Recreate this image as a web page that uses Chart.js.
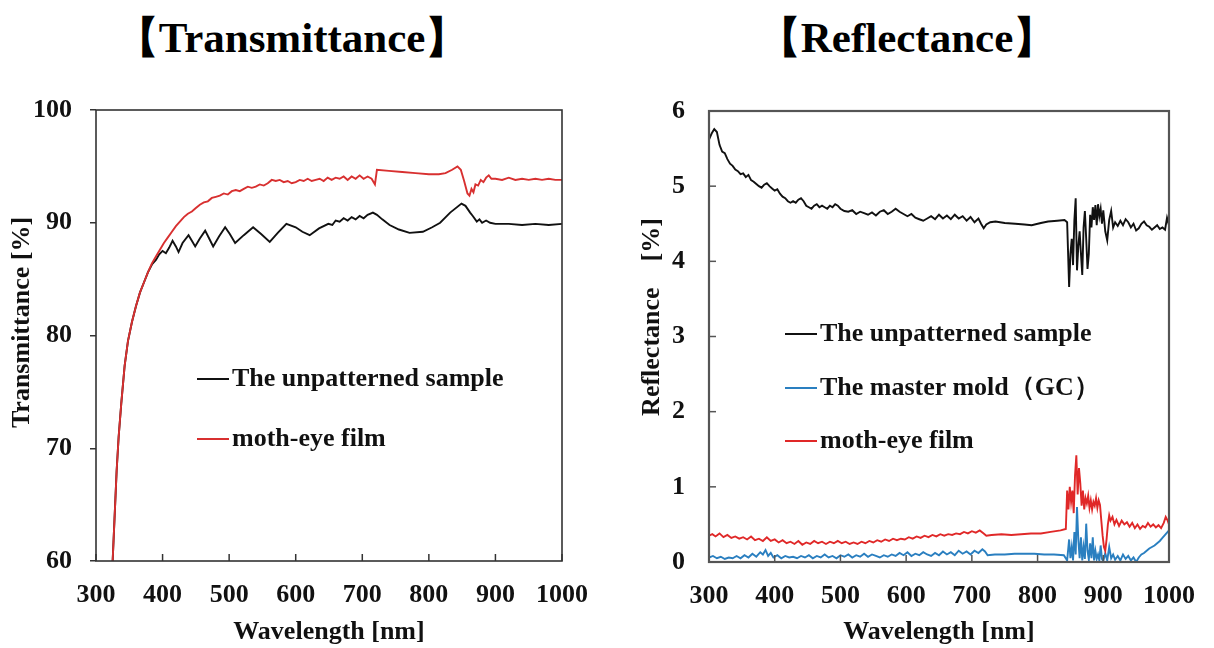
<!DOCTYPE html>
<html>
<head>
<meta charset="utf-8">
<script src="https://cdn.jsdelivr.net/npm/chart.js@4.4.1/dist/chart.umd.min.js"></script>
<style>
  body { margin: 0; background: #fff; width: 1214px; height: 648px; position: relative; overflow: hidden; }
  canvas { position: absolute; top: 0; }
  .title { position: absolute; top: 12px; font: bold 43px "Liberation Serif", serif; color: #000; white-space: nowrap; transform: translateX(-50%); line-height: 52px; }
  .leg { position: absolute; font: bold 26px "Liberation Serif", serif; color: #111; white-space: nowrap; line-height: 30px; }
  .leg span { display: inline-block; width: 32px; height: 2px; vertical-align: middle; margin-right: 3px; position: relative; top: -1px; }
</style>
</head>
<body>
<div class="title" style="left:292px">【Transmittance】</div>
<div class="title" style="left:907px">【Reflectance】</div>
<canvas id="transChart" width="607" height="648" style="left:0"></canvas>
<canvas id="reflChart" width="607" height="648" style="left:607px"></canvas>

<div class="leg" style="left:197px;top:363px"><span style="background:#111"></span>The unpatterned sample</div>
<div class="leg" style="left:197px;top:423px"><span style="background:#d83030"></span>moth-eye film</div>

<div class="leg" style="left:785px;top:318px"><span style="background:#111"></span>The unpatterned sample</div>
<div class="leg" style="left:785px;top:372px"><span style="background:#2a7fc0"></span>The master mold（GC）</div>
<div class="leg" style="left:785px;top:425px"><span style="background:#e02828"></span>moth-eye film</div>

<script>
// ---- Transmittance [%] ----
let tBlackNm = [325, 328, 331, 334, 338, 343, 348, 354, 360, 366, 372, 378, 384, 390, 395, 400, 405, 410, 415, 420, 424, 430, 439, 444, 449, 456, 464, 470, 476, 485, 494, 501, 509, 522, 536, 548, 561, 573, 586, 600, 610, 621, 635, 649, 655, 660, 666, 672, 678, 684, 690, 696, 702, 708, 716, 722, 730, 741, 755, 771, 791, 805, 817, 832, 849, 855, 862, 866, 872, 876, 880, 886, 892, 900, 920, 940, 960, 980, 1000];
let tBlack = [60, 64, 68, 71, 74, 77.3, 79.5, 81.2, 82.6, 83.8, 84.7, 85.6, 86.3, 86.7, 87.2, 87.5, 87.3, 87.8, 88.4, 87.9, 87.4, 88.2, 88.9, 88.4, 87.9, 88.6, 89.3, 88.6, 87.9, 88.8, 89.6, 89.0, 88.2, 88.9, 89.6, 89.0, 88.3, 89.1, 89.9, 89.6, 89.2, 88.9, 89.5, 89.9, 89.8, 90.2, 90.1, 90.4, 90.2, 90.5, 90.3, 90.6, 90.4, 90.7, 90.9, 90.7, 90.3, 89.8, 89.4, 89.1, 89.2, 89.6, 90.0, 90.9, 91.7, 91.5, 90.9, 90.6, 90.1, 90.3, 90.0, 90.2, 90.0, 89.9, 89.9, 89.8, 89.9, 89.8, 89.9];

let tRedNm = [325, 328, 331, 334, 338, 343, 348, 354, 360, 366, 372, 378, 384, 390, 396, 402, 408, 414, 420, 426, 432, 438, 444, 450, 456, 462, 468, 474, 480, 486, 492, 498, 504, 510, 516, 522, 528, 534, 540, 546, 552, 558, 564, 570, 576, 582, 588, 594, 600, 606, 612, 618, 624, 630, 636, 642, 648, 654, 660, 666, 672, 678, 684, 690, 696, 702, 708, 714, 719, 722, 740, 760, 780, 800, 815, 825, 835, 843, 848, 853, 858, 861, 864, 867, 870, 874, 878, 882, 886, 890, 894, 900, 910, 920, 930, 940, 950, 960, 970, 980, 990, 1000];
let tRed = [60, 64, 68, 71, 74, 77.3, 79.5, 81.2, 82.6, 83.8, 84.7, 85.6, 86.4, 87.0, 87.6, 88.2, 88.7, 89.2, 89.7, 90.1, 90.5, 90.8, 91.0, 91.3, 91.6, 91.8, 91.9, 92.2, 92.3, 92.4, 92.6, 92.5, 92.8, 92.9, 92.8, 93.0, 93.2, 93.1, 93.2, 93.4, 93.3, 93.5, 93.8, 93.7, 93.8, 93.6, 93.7, 93.5, 93.6, 93.8, 93.7, 93.9, 93.7, 93.8, 93.9, 93.7, 94.0, 93.8, 94.0, 93.9, 94.1, 93.8, 94.1, 93.9, 94.2, 93.9, 94.1, 93.9, 93.4, 94.7, 94.6, 94.5, 94.4, 94.3, 94.3, 94.4, 94.7, 95.0, 94.7, 93.7, 92.6, 92.4, 93.0, 92.7, 93.4, 93.3, 93.8, 93.6, 94.0, 94.2, 93.9, 93.9, 93.8, 94.0, 93.8, 93.9, 93.8, 93.9, 93.8, 93.9, 93.8, 93.8];

// ---- Reflectance [%] ----
let rBlackNm = [300, 304, 308, 312, 316, 320, 324, 328, 332, 336, 340, 344, 348, 352, 356, 360, 364, 368, 372, 376, 380, 384, 388, 392, 396, 400, 404, 408, 412, 416, 420, 424, 428, 432, 436, 440, 444, 448, 452, 456, 460, 464, 468, 472, 476, 480, 484, 488, 492, 496, 500, 506, 512, 518, 524, 530, 536, 542, 548, 554, 560, 566, 572, 578, 584, 590, 596, 602, 608, 614, 620, 626, 632, 638, 644, 650, 656, 662, 668, 674, 680, 686, 692, 698, 704, 710, 714, 718, 722, 728, 736, 750, 766, 780, 791, 805, 816, 830, 841, 845, 848, 850, 852, 854, 856, 858, 860, 862, 864, 866, 868, 870, 872, 874, 876, 878, 880, 882, 884, 886, 888, 890, 892, 894, 896, 898, 900, 903, 906, 909, 912, 915, 918, 922, 926, 930, 934, 938, 942, 946, 950, 954, 958, 962, 966, 970, 974, 978, 982, 986, 990, 994, 997, 1000];
let rBlack = [5.62, 5.70, 5.76, 5.72, 5.55, 5.46, 5.44, 5.36, 5.30, 5.27, 5.22, 5.20, 5.16, 5.17, 5.12, 5.15, 5.08, 5.06, 5.03, 5.00, 4.98, 5.02, 5.04, 5.00, 4.97, 4.94, 4.96, 4.90, 4.86, 4.84, 4.80, 4.78, 4.80, 4.78, 4.82, 4.84, 4.80, 4.74, 4.72, 4.70, 4.74, 4.76, 4.72, 4.74, 4.72, 4.70, 4.74, 4.72, 4.76, 4.74, 4.70, 4.67, 4.66, 4.68, 4.63, 4.66, 4.64, 4.62, 4.65, 4.61, 4.66, 4.68, 4.63, 4.66, 4.70, 4.66, 4.63, 4.60, 4.63, 4.58, 4.56, 4.54, 4.57, 4.60, 4.56, 4.62, 4.57, 4.61, 4.56, 4.62, 4.57, 4.60, 4.54, 4.59, 4.52, 4.57, 4.50, 4.44, 4.49, 4.52, 4.53, 4.51, 4.50, 4.49, 4.48, 4.51, 4.53, 4.54, 4.55, 4.52, 3.66, 4.10, 4.30, 3.95, 4.55, 4.84, 3.88, 4.20, 4.40, 4.10, 3.82, 4.45, 4.67, 4.30, 3.90, 4.10, 4.62, 4.45, 4.72, 4.55, 4.75, 4.48, 4.76, 4.60, 4.70, 4.50, 4.68, 4.40, 4.28, 4.55, 4.67, 4.45, 4.52, 4.47, 4.54, 4.48, 4.56, 4.52, 4.45, 4.50, 4.41, 4.44, 4.50, 4.53, 4.48, 4.46, 4.42, 4.45, 4.48, 4.43, 4.45, 4.42, 4.58, 4.48];

let rBlueNm = [300, 306, 312, 318, 324, 330, 336, 342, 348, 354, 360, 366, 372, 378, 382, 386, 390, 394, 398, 404, 410, 416, 422, 428, 434, 440, 446, 452, 458, 464, 470, 476, 482, 488, 494, 500, 506, 512, 518, 524, 530, 536, 542, 548, 554, 560, 566, 572, 578, 584, 590, 596, 602, 608, 614, 620, 626, 632, 638, 644, 650, 656, 662, 668, 674, 680, 686, 692, 698, 704, 710, 716, 720, 724, 735, 750, 765, 780, 795, 810, 825, 840, 845, 848, 850, 852, 854, 856, 858, 860, 862, 864, 866, 868, 870, 872, 874, 876, 878, 880, 882, 884, 886, 888, 890, 892, 894, 896, 898, 900, 903, 906, 909, 912, 915, 918, 922, 926, 930, 934, 938, 942, 946, 950, 954, 958, 962, 966, 970, 974, 978, 982, 986, 990, 994, 998, 1000];
let rBlue = [0.06, 0.08, 0.05, 0.07, 0.04, 0.06, 0.05, 0.08, 0.05, 0.09, 0.06, 0.11, 0.07, 0.13, 0.10, 0.16, 0.08, 0.12, 0.06, 0.09, 0.05, 0.08, 0.06, 0.07, 0.05, 0.08, 0.06, 0.09, 0.05, 0.08, 0.06, 0.10, 0.06, 0.08, 0.05, 0.09, 0.07, 0.10, 0.06, 0.09, 0.07, 0.11, 0.07, 0.10, 0.08, 0.06, 0.09, 0.07, 0.10, 0.08, 0.12, 0.09, 0.13, 0.08, 0.11, 0.09, 0.13, 0.10, 0.08, 0.12, 0.09, 0.14, 0.10, 0.13, 0.09, 0.15, 0.11, 0.14, 0.10, 0.15, 0.12, 0.17, 0.14, 0.09, 0.10, 0.10, 0.11, 0.11, 0.11, 0.10, 0.10, 0.09, 0.02, 0.30, 0.05, 0.20, 0.02, 0.40, 0.10, 0.73, 0.30, 0.05, 0.33, 0.02, 0.20, 0.04, 0.51, 0.15, 0.03, 0.25, 0.05, 0.33, 0.02, 0.15, 0.04, 0.10, 0.02, 0.22, 0.04, 0.01, 0.12, 0.02, 0.20, 0.05, 0.10, 0.03, 0.08, 0.02, 0.10, 0.04, 0.08, 0.02, 0.06, 0.00, 0.06, 0.10, 0.12, 0.15, 0.18, 0.20, 0.22, 0.25, 0.28, 0.32, 0.36, 0.40, 0.42];

let rRedNm = [300, 305, 310, 316, 322, 328, 334, 340, 346, 352, 358, 364, 370, 376, 382, 388, 394, 400, 406, 412, 418, 424, 430, 436, 442, 448, 454, 460, 466, 472, 478, 484, 490, 496, 502, 508, 514, 520, 526, 532, 538, 544, 550, 556, 562, 568, 574, 580, 586, 592, 598, 604, 610, 616, 622, 628, 634, 640, 646, 652, 658, 664, 670, 676, 682, 688, 694, 700, 706, 712, 718, 722, 730, 745, 760, 775, 790, 805, 820, 835, 843, 845, 847, 849, 851, 853, 855, 857, 859, 861, 863, 865, 867, 869, 871, 873, 875, 877, 879, 881, 883, 885, 887, 889, 891, 893, 895, 897, 899, 901, 903, 905, 907, 909, 911, 914, 917, 920, 924, 928, 932, 936, 940, 944, 948, 952, 956, 960, 964, 968, 972, 976, 980, 984, 988, 992, 995, 998, 1000];
let rRed = [0.35, 0.37, 0.34, 0.38, 0.33, 0.36, 0.32, 0.34, 0.31, 0.33, 0.30, 0.34, 0.29, 0.31, 0.28, 0.33, 0.28, 0.30, 0.26, 0.29, 0.25, 0.27, 0.24, 0.28, 0.23, 0.26, 0.24, 0.28, 0.25, 0.27, 0.24, 0.27, 0.25, 0.28, 0.25, 0.27, 0.24, 0.26, 0.24, 0.27, 0.25, 0.28, 0.26, 0.29, 0.27, 0.30, 0.28, 0.31, 0.29, 0.31, 0.30, 0.33, 0.31, 0.34, 0.32, 0.35, 0.33, 0.36, 0.34, 0.37, 0.35, 0.37, 0.36, 0.38, 0.37, 0.40, 0.38, 0.41, 0.39, 0.42, 0.38, 0.35, 0.36, 0.37, 0.36, 0.37, 0.38, 0.38, 0.40, 0.42, 0.44, 0.95, 0.70, 1.00, 0.80, 0.95, 0.65, 1.15, 1.42, 0.90, 1.25, 1.05, 0.75, 0.95, 0.70, 0.85, 0.78, 0.88, 0.72, 0.82, 0.70, 0.80, 0.75, 0.85, 0.72, 0.82, 0.76, 0.55, 0.35, 0.20, 0.15, 0.30, 0.50, 0.62, 0.55, 0.60, 0.50, 0.56, 0.48, 0.55, 0.50, 0.53, 0.47, 0.52, 0.45, 0.50, 0.44, 0.48, 0.46, 0.52, 0.47, 0.50, 0.46, 0.49, 0.45, 0.52, 0.60, 0.55, 0.50];

function pts(nm, vals) {
  return nm.map((x, i) => ({ x: x, y: vals[i] }));
}

const serif = "'Liberation Serif', 'Times New Roman', serif";
const plain = (v) => String(v);

// frame round the plot and inward tick marks
const boxPlugin = {
  id: "box",
  afterDatasetsDraw(chart, args, opts) {
    const { ctx, chartArea: a, scales } = chart;
    ctx.save();
    ctx.strokeStyle = opts.color;
    ctx.lineWidth = opts.width;
    ctx.strokeRect(a.left, a.top, a.right - a.left, a.bottom - a.top);
    ctx.lineWidth = 1.5;
    (opts.inward || []).forEach((id) => {
      const s = scales[id];
      s.ticks.forEach((t) => {
        const p = s.getPixelForValue(t.value);
        ctx.beginPath();
        if (s.isHorizontal()) {
          ctx.moveTo(p, a.bottom);
          ctx.lineTo(p, a.bottom - 7);
        } else {
          ctx.moveTo(a.left, p);
          ctx.lineTo(a.left + 7, p);
        }
        ctx.stroke();
      });
    });
    ctx.restore();
  },
};

function lineSet(label, data, color) {
  return {
    label: label,
    data: data,
    borderColor: color,
    borderWidth: 1.9,
    pointRadius: 0,
    tension: 0,
    fill: false,
  };
}

let transChart = new Chart(document.getElementById("transChart").getContext("2d"), {
  type: "line",
  data: {
    datasets: [
      lineSet("moth-eye film", pts(tRedNm, tRed), "#d83030"),
      lineSet("The unpatterned sample", pts(tBlackNm, tBlack), "#111111"),
    ],
  },
  options: {
    responsive: false,
    animation: false,
    layout: { padding: { top: 110, right: 43, bottom: 0, left: 0 } },
    plugins: {
      legend: { display: false },
      tooltip: { enabled: false },
      box: { color: "#333", width: 1.6, inward: ["x"] },
    },
    scales: {
      x: {
        type: "linear",
        min: 300,
        max: 1000,
        afterFit: (s) => { s.height = 87; },
        grid: { display: false, drawTicks: false },
        border: { display: false },
        ticks: { stepSize: 100, padding: 19, callback: plain, color: "#111", font: { family: serif, size: 26, weight: "bold" } },
        title: { display: true, text: "Wavelength [nm]", color: "#111", padding: { top: 0, bottom: 0 }, font: { family: serif, size: 26, weight: "bold" } },
      },
      y: {
        min: 60,
        max: 100,
        afterFit: (s) => { s.width = 96; },
        grid: { drawOnChartArea: false, drawTicks: true, tickLength: 6, color: "#333", lineWidth: 1.5 },
        border: { display: false },
        ticks: { stepSize: 10, padding: 18, callback: plain, color: "#111", font: { family: serif, size: 26, weight: "bold" } },
        title: { display: true, text: "    Transmittance [%]", color: "#111", padding: { top: 7, bottom: 0 }, font: { family: serif, size: 26, weight: "bold" } },
      },
    },
  },
  plugins: [boxPlugin],
});

let reflChart = new Chart(document.getElementById("reflChart").getContext("2d"), {
  type: "line",
  data: {
    datasets: [
      lineSet("The unpatterned sample", pts(rBlackNm, rBlack), "#111111"),
      lineSet("moth-eye film", pts(rRedNm, rRed), "#e02828"),
      lineSet("The master mold（GC）", pts(rBlueNm, rBlue), "#2a7fc0"),
    ],
  },
  options: {
    responsive: false,
    animation: false,
    layout: { padding: { top: 111, right: 37, bottom: 0, left: 0 } },
    plugins: {
      legend: { display: false },
      tooltip: { enabled: false },
      box: { color: "#555", width: 2.2, inward: ["x", "y"] },
    },
    scales: {
      x: {
        type: "linear",
        min: 300,
        max: 1000,
        afterFit: (s) => { s.height = 86; },
        grid: { display: false, drawTicks: false },
        border: { display: false },
        ticks: { stepSize: 100, padding: 19, callback: plain, color: "#111", font: { family: serif, size: 26, weight: "bold" } },
        title: { display: true, text: "Wavelength [nm]", color: "#111", padding: { top: 0, bottom: 0 }, font: { family: serif, size: 26, weight: "bold" } },
      },
      y: {
        min: 0,
        max: 6,
        afterFit: (s) => { s.width = 102; },
        grid: { display: false, drawTicks: false },
        border: { display: false },
        ticks: { stepSize: 1, padding: 24, callback: plain, color: "#111", font: { family: serif, size: 26, weight: "bold" } },
        title: { display: true, text: "      Reflectance    [%]", color: "#111", padding: { top: 30, bottom: 0 }, font: { family: serif, size: 26, weight: "bold" } },
      },
    },
  },
  plugins: [boxPlugin],
});
</script>
</body>
</html>
